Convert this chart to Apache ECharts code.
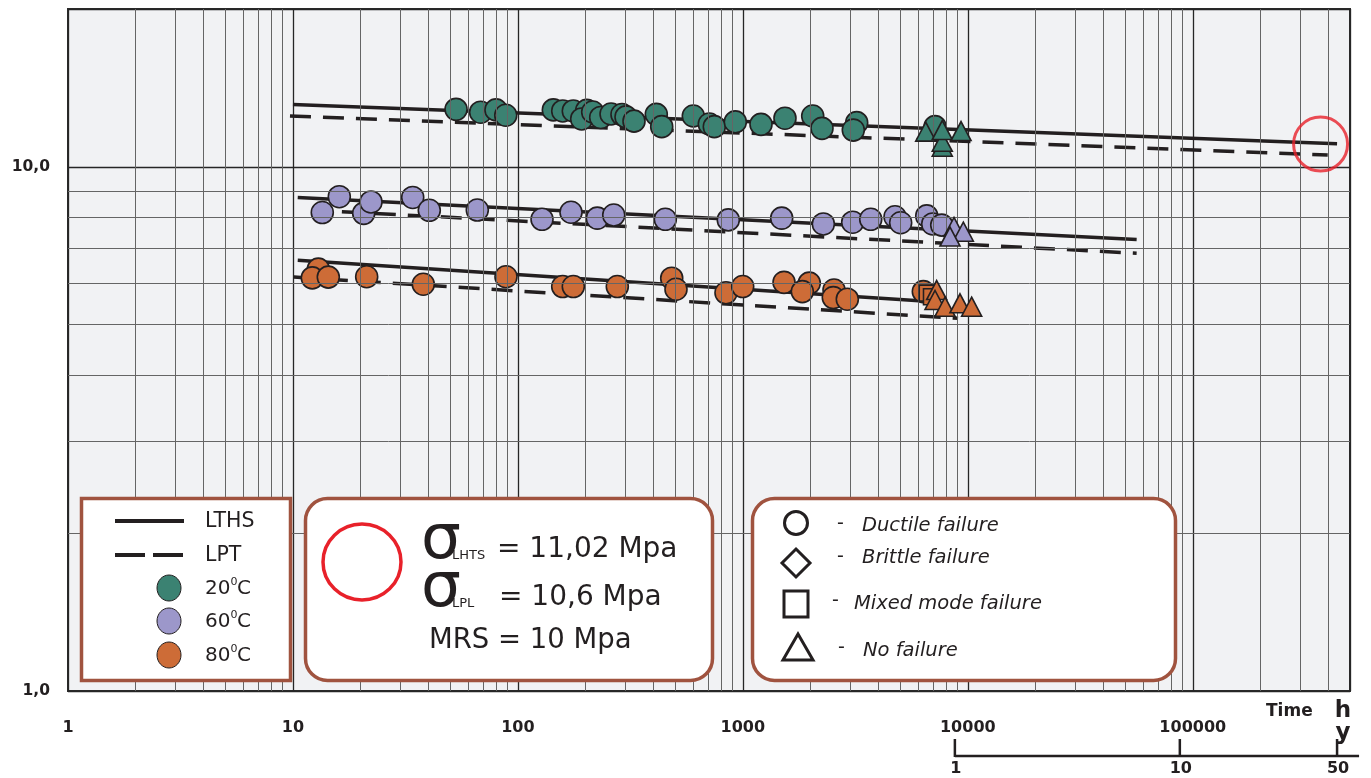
<!DOCTYPE html>
<html><head><meta charset="utf-8">
<script src="https://cdn.jsdelivr.net/npm/echarts@6/dist/echarts.min.js"></script>
<style>html,body{margin:0;padding:0;background:#fff}#c{width:1371px;height:778px}</style>
</head><body><div id="c"></div>
<script>
// ---- axis ticks ----
const xTickLabels = ['1', '10', '100', '1000', '10000', '100000'];
const yTickLabels = { 1: '1,0', 10: '10,0' };
const minorMultipliers = [2, 3, 4, 5, 6, 7, 8, 9];
const xDecades = [1, 10, 100, 1000, 10000, 100000];
const yDecades = [1];
const xMin = 1, xMax = 500000, yMin = 1, yMax = 20;
const hoursPerYear = 8760;
const yearTicks = [1, 10, 50];

// ---- regression lines (time h, stress MPa) ----
const lths20 = [[10, 13.15], [438000, 11.07]];
const lpt20 = [[9.7, 12.5], [398000, 10.53]];
const lths60 = [[10.5, 8.74], [56300, 7.27]];
const lpt60 = [[16.5, 8.21], [56300, 6.84]];
const lths80 = [[10.5, 6.63], [7100, 5.53]];
const lpt80 = [[10.1, 6.16], [9050, 5.14]];

// ---- test points ----
const ductile20 = [[53.1,12.87],[68.3,12.71],[79.9,12.84],[88.3,12.54],[143.7,12.84],[158.2,12.78],[176.3,12.78],[202.3,12.81],[192.1,12.34],[215,12.72],[233.4,12.42],[259.4,12.61],[290.2,12.58],[302.4,12.45],[328.2,12.22],[412.3,12.59],[435.8,11.93],[602.2,12.5],[709.4,12.07],[746.6,11.93],[925.6,12.18],[1204,12.05],[1539,12.38],[2044,12.5],[2248,11.84],[3207,12.14],[3097,11.75],[7150,11.93]];
const noFailure20 = [[7700,10.92],[7700,11.16],[6500,11.67],[7700,11.75],[9330,11.7]];
const ductile60 = [[13.5,8.18],[16.07,8.77],[20.63,8.15],[22.23,8.57],[34.07,8.74],[40.37,8.26],[66,8.27],[128,7.94],[172.2,8.19],[225.4,7.98],[266.7,8.09],[452.1,7.94],[861.6,7.92],[1488,7.98],[2279,7.78],[3078,7.84],[3702,7.94],[4747,8.03],[5030,7.82],[6567,8.06],[6983,7.78],[7656,7.74]];
const noFailure60 = [[8683,7.68],[9550,7.52],[8335,7.36]];
const ductile80 = [[12.97,6.38],[12.19,6.14],[14.36,6.16],[21.27,6.17],[37.97,5.97],[88.5,6.17],[158.2,5.91],[176.3,5.91],[276.6,5.91],[482.8,6.13],[504.4,5.84],[841.4,5.75],[998.4,5.91],[1524,6.02],[1974,6],[1838,5.78],[2542,5.82],[2524,5.63],[2913,5.59],[6342,5.78]];
const mixed80 = [[6570,5.74],[6860,5.65]];
const noFailure80 = [[7270,5.82],[7150,5.57],[7920,5.41],[9230,5.49],[10400,5.41]];
const target50y = [[370000, 11.05]];

const FONT = 'Verdana, "DejaVu Sans", sans-serif';
const INK = '#231f20';
const C20 = '#3b8272', C60 = '#9c97ca', C80 = '#cd6c37';
const BROWN = '#a0533f', RED = '#e8212a';

const xMinor = [];
xDecades.forEach(d => minorMultipliers.forEach(m => { if (d * m < xMax) xMinor.push(d * m); }));
const yMinor = [];
yDecades.forEach(d => minorMultipliers.forEach(m => { if (d * m < yMax) yMinor.push(d * m); }));

function lineSeries(data, dashed) {
  return { type: 'line', data, symbol: 'none', silent: true, z: 3, animation: false,
    lineStyle: { color: INK, width: 3.5, type: dashed ? [21, 12] : 'solid' } };
}
function pts(data, color, symbol, size, z) {
  return { type: 'scatter', data, symbol, symbolSize: size, silent: true, z, animation: false,
    itemStyle: { color, borderColor: INK, borderWidth: 1.6, opacity: 1 } };
}

const chart = echarts.init(document.getElementById('c'), null, { renderer: 'canvas' });
chart.setOption({
  backgroundColor: '#ffffff',
  animation: false,
  grid: { left: 68, right: 21, top: 9, bottom: 87, show: true, backgroundColor: '#f1f2f4',
    borderColor: '#2b2b2b', borderWidth: 2, containLabel: false, outerBoundsMode: 'none' },
  xAxis: { type: 'log', logBase: 10, min: xMin, max: xMax,
    axisLine: { show: false }, axisTick: { show: false },
    splitLine: { show: true, lineStyle: { color: '#262626', width: 1.3 } },
    axisLabel: { margin: 29, fontSize: 16, fontWeight: 'bold', color: INK, fontFamily: FONT,
      formatter: v => { const s = String(Math.round(v)); return xTickLabels.includes(s) ? s : ''; } } },
  yAxis: { type: 'log', logBase: 10, min: yMin, max: yMax,
    axisLine: { show: false }, axisTick: { show: false },
    splitLine: { show: true, lineStyle: { color: '#262626', width: 1.3 } },
    axisLabel: { margin: 18, fontSize: 15.5, fontWeight: 'bold', color: INK, fontFamily: FONT,
      formatter: v => yTickLabels[Math.round(v)] || '' } },
  series: [
    { type: 'line', data: [[1, 1]], symbol: 'none', silent: true, z: 1, lineStyle: { width: 0 },
      markLine: { silent: true, symbol: 'none', animation: false, label: { show: false },
        lineStyle: { color: '#656565', width: 1, type: 'solid' },
        emphasis: { disabled: true },
        data: [...xMinor.map(v => ({ xAxis: v })), ...yMinor.map(v => ({ yAxis: v }))] } },
    lineSeries(lths20, false), lineSeries(lpt20, true),
    lineSeries(lths60, false), lineSeries(lpt60, true),
    lineSeries(lths80, false), lineSeries(lpt80, true),
    pts(ductile20, C20, 'circle', 22, 4),
    pts(noFailure20, C20, 'triangle', [20, 19], 5),
    pts(ductile60, C60, 'circle', 22, 4),
    pts(noFailure60, C60, 'triangle', [20, 19], 5),
    pts(ductile80, C80, 'circle', 22, 4),
    pts(mixed80, C80, 'rect', [15, 16], 5),
    pts(noFailure80, C80, 'triangle', [20, 19], 6),
    { type: 'scatter', data: target50y, symbol: 'circle', symbolSize: 54, silent: true, z: 7,
      itemStyle: { color: 'rgba(0,0,0,0)', borderColor: RED, borderWidth: 3 } }
  ]
});

// ---- annotation graphics ----
const txt = (x, y, text, size, extra) => ({ type: 'text', x, y, silent: true, z: 100,
  style: Object.assign({ text, fontSize: size, fontFamily: FONT, fill: INK, verticalAlign: 'middle', align: 'left' }, extra || {}) });

const g = [];
// box 1
g.push({ type: 'rect', z: 90, silent: true, shape: { x: 81.5, y: 498.5, width: 209, height: 182 },
  style: { fill: '#fff', stroke: BROWN, lineWidth: 3.5 } });
g.push({ type: 'line', z: 100, silent: true, shape: { x1: 115, y1: 521, x2: 184, y2: 521 }, style: { stroke: INK, lineWidth: 4 } });
g.push({ type: 'line', z: 100, silent: true, shape: { x1: 115, y1: 555, x2: 184, y2: 555 }, style: { stroke: INK, lineWidth: 4, lineDash: [30, 8] } });
g.push(txt(205, 522, 'LTHS', 20.5));
g.push(txt(205, 556, 'LPT', 20.5));
[[588, C20, '20'], [621, C60, '60'], [655, C80, '80']].forEach(([y, c, t]) => {
  g.push({ type: 'ellipse', z: 100, silent: true, shape: { cx: 169, cy: y, rx: 12, ry: 13 }, style: { fill: c, stroke: INK, lineWidth: 1 } });
  g.push(txt(205, y + 1, t, 20));
  g.push(txt(230.5, y - 6, '0', 11));
  g.push(txt(237, y + 1, 'C', 20));
});
// box 2
g.push({ type: 'rect', z: 90, silent: true, shape: { x: 305.5, y: 498.5, width: 407, height: 182, r: 22 },
  style: { fill: '#fff', stroke: BROWN, lineWidth: 3.5 } });
g.push({ type: 'ellipse', z: 100, silent: true, shape: { cx: 362, cy: 562, rx: 39, ry: 38 }, style: { fill: 'none', stroke: RED, lineWidth: 3.5 } });
g.push(txt(421, 542, 'σ', 63));
g.push(txt(452, 556, 'LHTS', 13));
g.push(txt(497, 550, '= 11,02 Mpa', 28));
g.push(txt(421, 590, 'σ', 63));
g.push(txt(452, 604, 'LPL', 13));
g.push(txt(499, 598, '= 10,6 Mpa', 28));
g.push(txt(429, 641, 'MRS = 10 Mpa', 27.5));
// box 3
g.push({ type: 'rect', z: 90, silent: true, shape: { x: 752.5, y: 498.5, width: 423, height: 182, r: 22 },
  style: { fill: '#fff', stroke: BROWN, lineWidth: 3.5 } });
g.push({ type: 'circle', z: 100, silent: true, shape: { cx: 796, cy: 523, r: 11.5 }, style: { fill: 'none', stroke: INK, lineWidth: 3 } });
g.push({ type: 'polygon', z: 100, silent: true, shape: { points: [[796, 549], [810, 563], [796, 577], [782, 563]] }, style: { fill: 'none', stroke: INK, lineWidth: 3 } });
g.push({ type: 'rect', z: 100, silent: true, shape: { x: 784, y: 591, width: 24, height: 26 }, style: { fill: 'none', stroke: INK, lineWidth: 3 } });
g.push({ type: 'polygon', z: 100, silent: true, shape: { points: [[798, 634], [813, 660], [783, 660]] }, style: { fill: 'none', stroke: INK, lineWidth: 3 } });
const it = { fontStyle: 'italic' };
g.push(txt(837, 524, '-', 19)); g.push(txt(862, 526, 'Ductile failure', 19.5, it));
g.push(txt(837, 557, '-', 19)); g.push(txt(862, 558, 'Brittle failure', 19.5, it));
g.push(txt(832, 601, '-', 19)); g.push(txt(854, 604, 'Mixed mode failure', 19.5, it));
g.push(txt(838, 648, '-', 19)); g.push(txt(863, 651, 'No failure', 19.5, it));
// axis titles
g.push(txt(1266, 712, 'Time', 17, { fontWeight: 'bold' }));
g.push(txt(1343, 711, 'h', 23, { fontWeight: 'bold', align: 'center' }));
g.push(txt(1343, 733, 'y', 23, { fontWeight: 'bold', align: 'center' }));

// year axis from the hour axis scale
const yearPx = yearTicks.map(y => chart.convertToPixel({ xAxisIndex: 0 }, y * hoursPerYear));
const ay = 756;
g.push({ type: 'line', z: 100, silent: true, shape: { x1: yearPx[0], y1: ay, x2: yearPx[yearPx.length - 1] + 22, y2: ay }, style: { stroke: INK, lineWidth: 2.5 } });
yearTicks.forEach((t, i) => {
  g.push({ type: 'line', z: 100, silent: true, shape: { x1: yearPx[i], y1: ay + 1, x2: yearPx[i], y2: 739 }, style: { stroke: INK, lineWidth: 2.5 } });
  g.push(txt(yearPx[i] + 1, 769, String(t), 16, { fontWeight: 'bold', align: 'center' }));
});
chart.setOption({ graphic: g });
</script></body></html>
